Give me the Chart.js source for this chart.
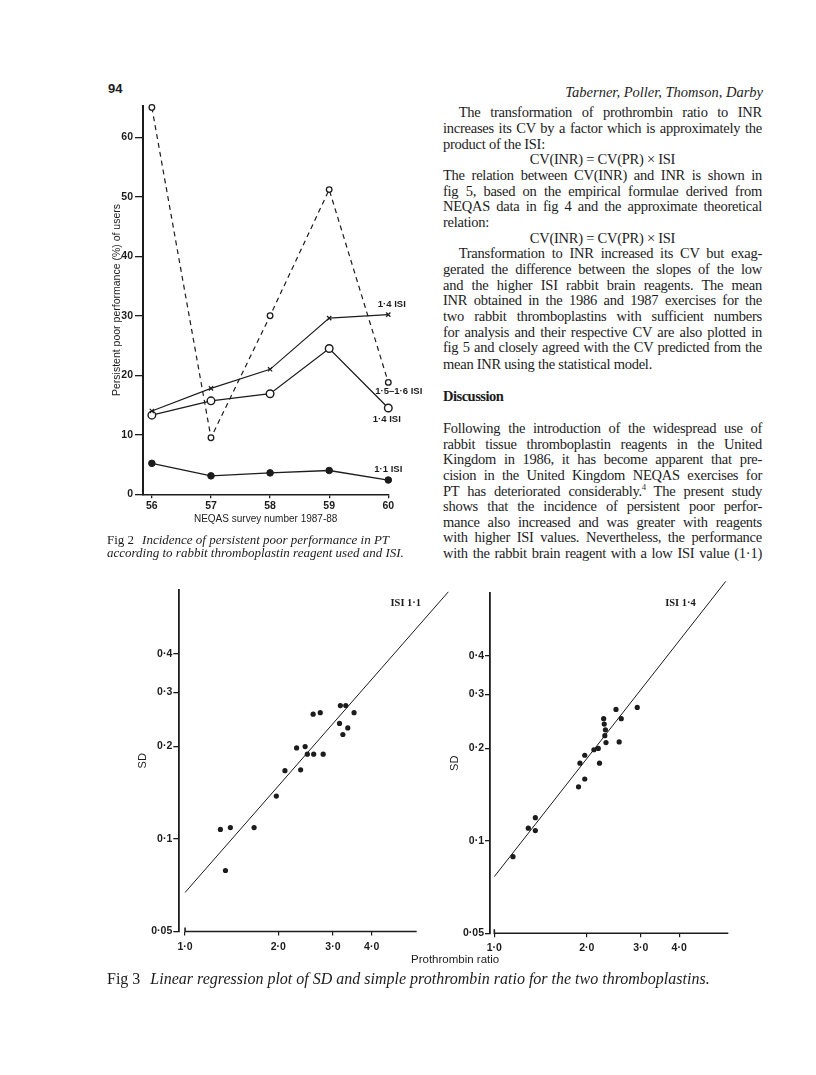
<!DOCTYPE html>
<html>
<head>
<meta charset="utf-8">
<script src="https://cdn.jsdelivr.net/npm/chart.js@4.4.0/dist/chart.umd.min.js"></script>
<style>
  body { margin: 0; background: #fff; }
  #page { position: relative; width: 816px; height: 1075px; overflow: hidden; background: #fff; color: #1c1c1c; }
  canvas { position: absolute; }
  .t { position: absolute; white-space: nowrap; line-height: 16px; }
  .ln { position: absolute; left: 443px; width: 319px; font: 14.5px "Liberation Serif", serif; letter-spacing: -0.25px; white-space: nowrap; line-height: 16px; box-sizing: border-box; }
  .ind { padding-left: 15.7px; }
  .ctr { text-align: center; }
  .cap { position: absolute; left: 107px; font: 13px "Liberation Serif", serif; white-space: nowrap; line-height: 14px; }
  .cap i { margin-left: 8px; }
</style>
</head>
<body>
<div id="page">
  <div class="t" style="left:108px;top:81px;font:bold 13px 'Liberation Sans',sans-serif;">94</div>
  <div class="t" style="right:53px;top:84px;font:italic 14.5px 'Liberation Serif',serif;">Taberner, Poller, Thomson, Darby</div>

  <div class="ln j ind" style="top:104.3px"><span>The transformation of prothrombin ratio to INR</span></div>
  <div class="ln j" style="top:120px"><span>increases its CV by a factor which is approximately the</span></div>
  <div class="ln" style="top:135.7px"><span>product of the ISI:</span></div>
  <div class="ln ctr" style="top:151.3px"><span>CV(INR) = CV(PR) × ISI</span></div>
  <div class="ln j" style="top:167px"><span>The relation between CV(INR) and INR is shown in</span></div>
  <div class="ln j" style="top:182.7px"><span>fig 5, based on the empirical formulae derived from</span></div>
  <div class="ln j" style="top:198.3px"><span>NEQAS data in fig 4 and the approximate theoretical</span></div>
  <div class="ln" style="top:214px"><span>relation:</span></div>
  <div class="ln ctr" style="top:229.7px"><span>CV(INR) = CV(PR) × ISI</span></div>
  <div class="ln j ind" style="top:245.3px"><span>Transformation to INR increased its CV but exag-</span></div>
  <div class="ln j" style="top:261px"><span>gerated the difference between the slopes of the low</span></div>
  <div class="ln j" style="top:276.7px"><span>and the higher ISI rabbit brain reagents. The mean</span></div>
  <div class="ln j" style="top:292.3px"><span>INR obtained in the 1986 and 1987 exercises for the</span></div>
  <div class="ln j" style="top:308px"><span>two rabbit thromboplastins with sufficient numbers</span></div>
  <div class="ln j" style="top:323.7px"><span>for analysis and their respective CV are also plotted in</span></div>
  <div class="ln j" style="top:339.3px"><span>fig 5 and closely agreed with the CV predicted from the</span></div>
  <div class="ln" style="top:356px"><span>mean INR using the statistical model.</span></div>
  <div class="ln" style="top:388px;font-weight:bold;letter-spacing:-0.5px"><span>Discussion</span></div>
  <div class="ln j" style="top:420.3px"><span>Following the introduction of the widespread use of</span></div>
  <div class="ln j" style="top:436px"><span>rabbit tissue thromboplastin reagents in the United</span></div>
  <div class="ln j" style="top:451.3px"><span>Kingdom in 1986, it has become apparent that pre-</span></div>
  <div class="ln j" style="top:467px"><span>cision in the United Kingdom NEQAS exercises for</span></div>
  <div class="ln j" style="top:482.7px"><span>PT has deteriorated considerably.<sup style="font-size:8px;line-height:0">4</sup> The present study</span></div>
  <div class="ln j" style="top:498px"><span>shows that the incidence of persistent poor perfor-</span></div>
  <div class="ln j" style="top:513.7px"><span>mance also increased and was greater with reagents</span></div>
  <div class="ln j" style="top:529px"><span>with higher ISI values. Nevertheless, the performance</span></div>
  <div class="ln j" style="top:544.7px"><span>with the rabbit brain reagent with a low ISI value (1·1)</span></div>

  <canvas id="fig2" width="330" height="440" style="left:100px;top:95px"></canvas>
  <div class="cap" style="top:533px">Fig 2<i>Incidence of persistent poor performance in PT</i></div>
  <div class="cap" style="top:545.5px"><i style="margin-left:0">according to rabbit thromboplastin reagent used and ISI.</i></div>

  <canvas id="fig3a" width="330" height="375" style="left:130px;top:580px"></canvas>
  <canvas id="fig3b" width="330" height="375" style="left:440px;top:580px"></canvas>
  <div class="t" style="left:411px;top:953px;font:11.5px 'Liberation Sans',sans-serif;">Prothrombin ratio</div>
  <div class="cap" style="top:971px;font-size:16px;line-height:16px">Fig 3<i style="margin-left:10px">Linear regression plot of SD and simple prothrombin ratio for the two thromboplastins.</i></div>
</div>

<script>
// Fig 2 – persistent poor performance by survey
const surveys = [56, 57, 58, 59, 60];
const isi1516 = [65, 9.5, 30, 51.2, 18.8];
const isi14cross = [14, 17.8, 21, 29.6, 30.2];
const isi14open = [13.3, 15.7, 16.9, 24.5, 14.5];
const isi11 = [5.2, 3.1, 3.6, 4.0, 2.4];
const fig2YTicks = [0, 10, 20, 30, 40, 50, 60];
const fig2Labels = ['1·5–1·6 ISI', '1·4 ISI', '1·4 ISI', '1·1 ISI'];

// Fig 3 – SD against prothrombin ratio
const prLow = [1.30, 1.40, 1.35, 1.67, 1.97, 2.10, 2.36, 2.29, 2.44, 2.48, 2.60, 2.79, 2.59, 2.73, 3.17, 3.30, 3.51, 3.15, 3.35, 3.23];
const sdLow = [0.1075, 0.109, 0.079, 0.109, 0.138, 0.167, 0.168, 0.198, 0.200, 0.189, 0.189, 0.189, 0.255, 0.258, 0.272, 0.272, 0.258, 0.238, 0.230, 0.219];
const fitLowX = [1.0, 7.07];
const fitLowY = [0.067, 0.638];
const prHigh = [1.15, 1.29, 1.36, 1.36, 1.88, 1.97, 1.90, 1.97, 2.11, 2.18, 2.20, 2.27, 2.28, 2.30, 2.29, 2.31, 2.49, 2.59, 2.55, 2.92];
const sdHigh = [0.0888, 0.110, 0.119, 0.108, 0.150, 0.159, 0.179, 0.190, 0.198, 0.200, 0.179, 0.250, 0.240, 0.230, 0.220, 0.209, 0.268, 0.250, 0.210, 0.272];
const fitHighX = [1.0, 5.67];
const fitHighY = [0.0765, 0.70];
const sdTicks = [0.05, 0.1, 0.2, 0.3, 0.4];
const sdTickLabels = ['0·05', '0·1', '0·2', '0·3', '0·4'];
const prTicks = [1, 2, 3, 4];
const prTickLabels = ['1·0', '2·0', '3·0', '4·0'];

const ink = '#1c1c1c';
const sans = "'Liberation Sans', Arial, sans-serif";

function pts(xs, ys) {
  return xs.map((x, i) => ({ x: x, y: ys[i] }));
}

// series labels on fig 2, placed next to the last point of each series
const seriesLabels = {
  id: 'seriesLabels',
  afterDatasetsDraw(chart, args, opts) {
    const ctx = chart.ctx;
    const xs = chart.scales.x, ys = chart.scales.y;
    ctx.save();
    ctx.fillStyle = ink;
    ctx.font = 'bold 9.5px ' + sans;
    ctx.textBaseline = 'middle';
    chart.data.datasets.forEach((ds, i) => {
      const last = ds.data[ds.data.length - 1];
      const off = opts.offsets[i];
      ctx.fillText(fig2Labels[i], xs.getPixelForValue(last.x) + off[0], ys.getPixelForValue(last.y) + off[1]);
    });
    ctx.restore();
  }
};

new Chart(document.getElementById('fig2'), {
  type: 'line',
  data: {
    datasets: [
      { data: pts(surveys, isi1516), borderColor: ink, borderWidth: 1.2, borderDash: [5, 4], clip: false,
        pointStyle: 'circle', pointRadius: 2.8, pointBackgroundColor: '#fff', pointBorderColor: ink, pointBorderWidth: 1.3 },
      { data: pts(surveys, isi14cross), borderColor: ink, borderWidth: 1.2, clip: false,
        pointStyle: 'crossRot', pointRadius: 3, pointBorderColor: ink, pointBorderWidth: 1.2 },
      { data: pts(surveys, isi14open), borderColor: ink, borderWidth: 1.3, clip: false,
        pointStyle: 'circle', pointRadius: 3.8, pointBackgroundColor: '#fff', pointBorderColor: ink, pointBorderWidth: 1.4 },
      { data: pts(surveys, isi11), borderColor: ink, borderWidth: 1.3, clip: false,
        pointStyle: 'circle', pointRadius: 3.3, pointBackgroundColor: ink, pointBorderColor: ink, pointBorderWidth: 1 }
    ]
  },
  options: {
    responsive: false,
    animation: false,
    layout: { padding: { left: 11, top: 10.7, right: 41.7, bottom: 0 } },
    plugins: {
      legend: { display: false },
      tooltip: { enabled: false },
      seriesLabels: { offsets: [[-13, 9], [-10.5, -10], [-15.5, 11], [-14, -11]] }
    },
    scales: {
      x: {
        type: 'linear', min: 55.85, max: 60,
        afterBuildTicks: s => { s.ticks = surveys.map(v => ({ value: v })); },
        afterFit: s => { s.height = 40.7; },
        grid: { drawOnChartArea: false, drawTicks: true, tickLength: 4, color: ink, lineWidth: 1.3 },
        border: { color: ink, width: 1.6 },
        ticks: { color: ink, font: { family: sans, size: 10.5, weight: 'bold' }, padding: 2, maxRotation: 0, autoSkip: false },
        title: { display: true, text: 'NEQAS survey number 1987-88', color: ink,
          font: { family: sans, size: 10 }, padding: { top: 0, bottom: 10 } }
      },
      y: {
        min: 0, max: 65.3,
        afterBuildTicks: s => { s.ticks = fig2YTicks.map(v => ({ value: v })); },
        afterFit: s => { s.width = 32; },
        grid: { drawOnChartArea: false, drawTicks: true, tickLength: 8, color: ink, lineWidth: 1.3 },
        border: { color: ink, width: 2 },
        ticks: { color: ink, font: { family: sans, size: 10.5, weight: 'bold' }, padding: 2, autoSkip: false },
        title: { display: true, text: 'Persistent poor performance (%) of users', color: ink,
          font: { family: sans, size: 10.5 }, padding: { top: 0, bottom: 0 } }
      }
    }
  },
  plugins: [seriesLabels]
});

// x axis line starting at 1.0 plus the ISI label
const logAxis = {
  id: 'logAxis',
  afterDraw(chart, args, opts) {
    const ctx = chart.ctx;
    const xs = chart.scales.x, ys = chart.scales.y;
    const a = chart.chartArea;
    const x0 = xs.getPixelForValue(1);
    ctx.save();
    ctx.strokeStyle = ink;
    ctx.lineWidth = 1.6;
    ctx.beginPath();
    ctx.moveTo(x0, a.bottom - 4);
    ctx.lineTo(x0, a.bottom);
    ctx.lineTo(a.right, a.bottom);
    ctx.stroke();
    ctx.fillStyle = ink;
    ctx.font = "bold 10.5px 'Liberation Serif', serif";
    ctx.textBaseline = 'middle';
    ctx.fillText(opts.text, xs.getPixelForValue(opts.at[0]), ys.getPixelForValue(opts.at[1]));
    ctx.restore();
  }
};

function fig3(id, xs, ys, fx, fy, xmin, xmax, ymax, pad, yWidth, xHeight, xPad, yTickLen, label, labelAt) {
  new Chart(document.getElementById(id), {
    type: 'scatter',
    data: {
      datasets: [
        { data: pts(xs, ys), pointRadius: 2.6, pointBackgroundColor: ink, pointBorderWidth: 0 },
        { data: pts(fx, fy), showLine: true, borderColor: ink, borderWidth: 1, pointRadius: 0, clip: false }
      ]
    },
    options: {
      responsive: false,
      animation: false,
      layout: { padding: pad },
      plugins: { legend: { display: false }, tooltip: { enabled: false }, logAxis: { text: label, at: labelAt } },
      scales: {
        x: {
          type: 'logarithmic', min: xmin, max: xmax,
          afterBuildTicks: s => { s.ticks = prTicks.map(v => ({ value: v })); },
          afterFit: s => { s.height = xHeight; },
          grid: { drawOnChartArea: false, drawTicks: true, tickLength: 4, color: ink, lineWidth: 1.2 },
          border: { display: false },
          ticks: { color: ink, font: { family: sans, size: 10.5, weight: 'bold' }, padding: xPad, maxRotation: 0, autoSkip: false,
            callback: (v, i) => prTickLabels[i] }
        },
        y: {
          type: 'logarithmic', min: 0.05, max: ymax,
          afterBuildTicks: s => { s.ticks = sdTicks.map(v => ({ value: v })); },
          afterFit: s => { s.width = yWidth; },
          grid: { drawOnChartArea: false, drawTicks: true, tickLength: yTickLen, color: ink, lineWidth: 1.3 },
          border: { color: ink, width: 1.8 },
          ticks: { color: ink, font: { family: sans, size: 10.5, weight: 'bold' }, padding: 1, autoSkip: false,
            callback: (v, i) => sdTickLabels[i] },
          title: { display: true, text: 'SD', color: ink, font: { family: sans, size: 11 }, padding: { top: 0, bottom: 0 } }
        }
      }
    },
    plugins: [logAxis]
  });
}

fig3('fig3a', prLow, sdLow, fitLowX, fitLowY, 0.958, 5.59, 0.647,
  { left: 6.4, top: 10, right: 43.3, bottom: 0 }, 42.9, 23.5, 5, 6, 'ISI 1·1', [4.6, 0.585]);
fig3('fig3b', prHigh, sdHigh, fitHighX, fitHighY, 0.968, 5.78, 0.64,
  { left: 8.4, top: 13.3, right: 41.7, bottom: 0 }, 41.6, 21.7, 5, 5, 'ISI 1·4', [3.6, 0.594]);

// stretch each justified line to the column width
document.querySelectorAll('.j').forEach(el => {
  const span = el.querySelector('span');
  const cs = getComputedStyle(el);
  const target = el.clientWidth - parseFloat(cs.paddingLeft);
  const gaps = (span.textContent.match(/ /g) || []).length;
  const extra = target - span.getBoundingClientRect().width;
  if (gaps) span.style.wordSpacing = (extra / gaps) + 'px';
});
</script>
</body>
</html>
